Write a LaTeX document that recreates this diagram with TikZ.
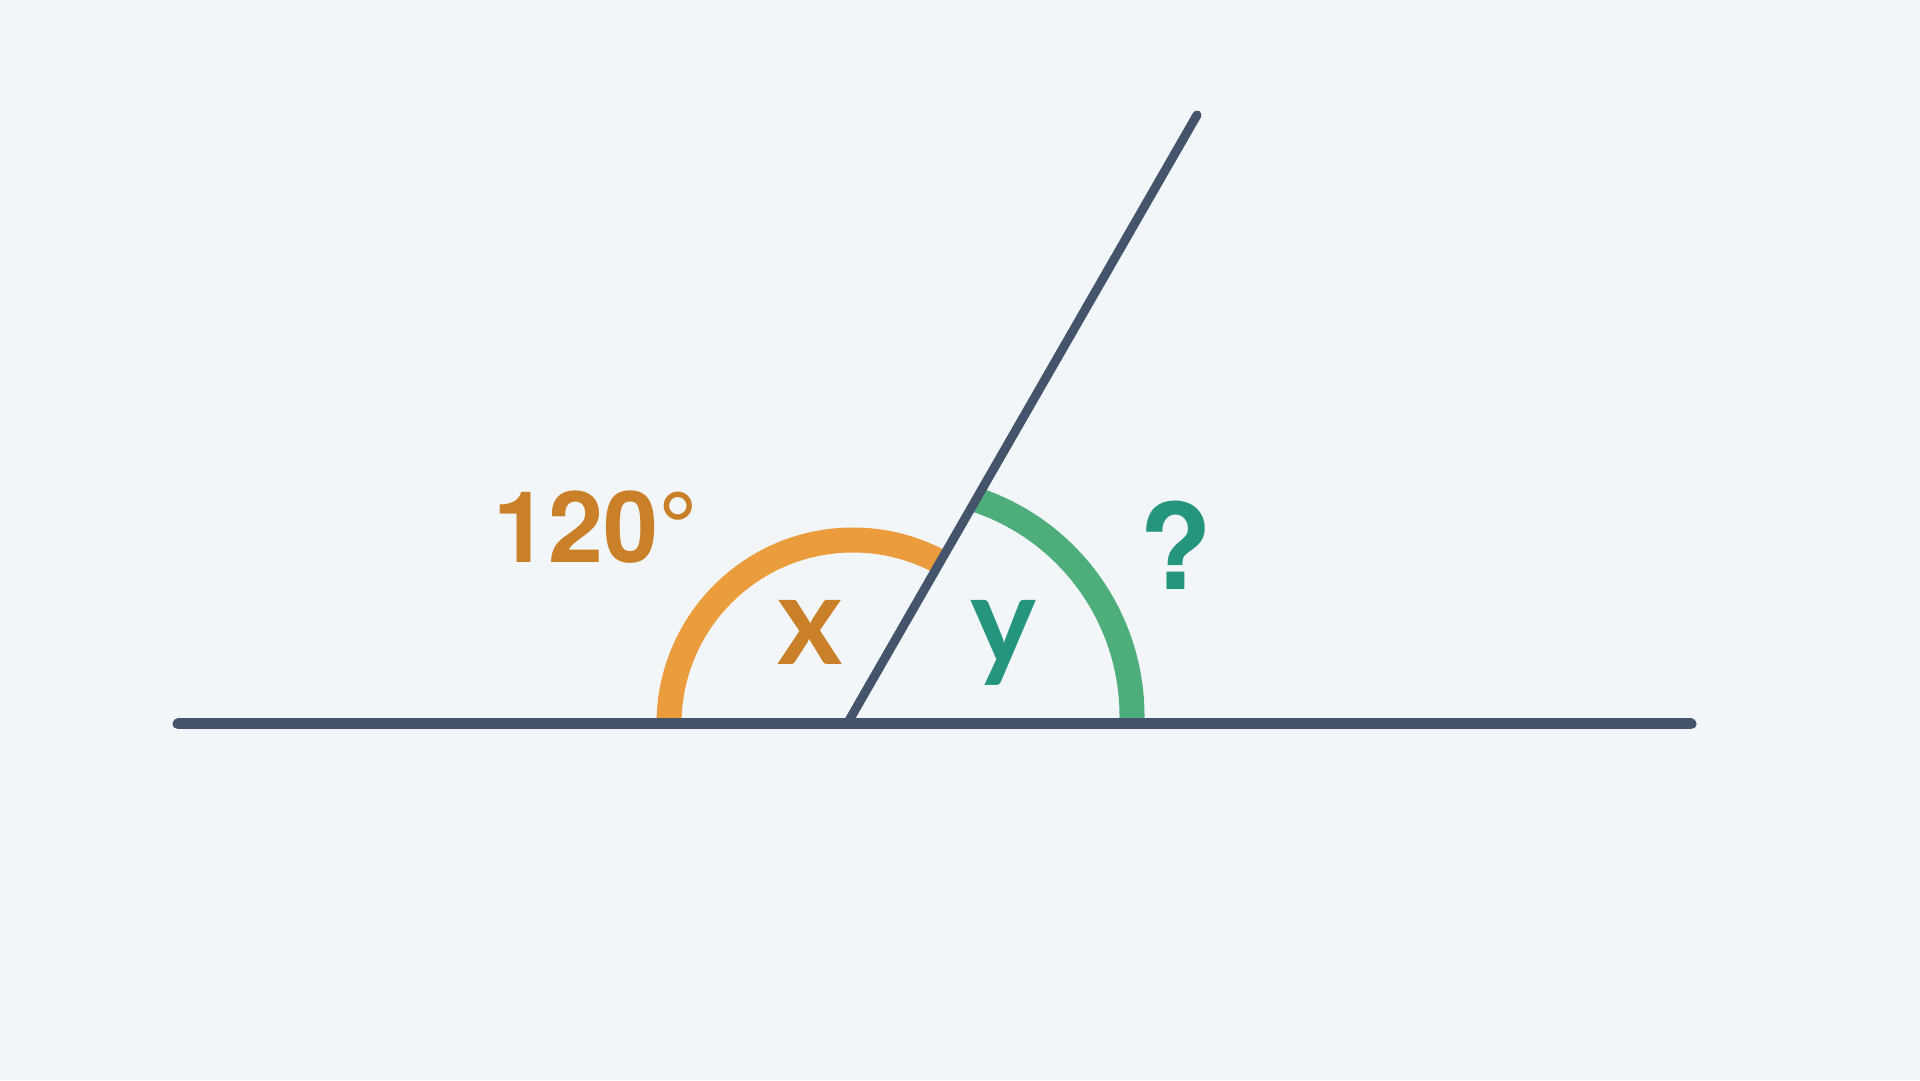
\documentclass[tikz,border=0pt]{standalone}
\usepackage{fontspec}
\setmainfont{TeX Gyre Heros}
\newfontfamily\letterfont{Lato}
\usetikzlibrary{calc}

\definecolor{bgcol}{HTML}{F3F6F8}
\definecolor{linecol}{HTML}{44546B}
\definecolor{xarc}{HTML}{EB9C3C}
\definecolor{xtext}{HTML}{C98028}
\definecolor{yarc}{HTML}{4DAD7B}
\definecolor{ytext}{HTML}{26957E}

\begin{document}
\begin{tikzpicture}[x=1pt,y=1pt,
  ray/.style={linecol,line cap=round},
  anglearc/.style={line width=25pt},
  label/.style={inner sep=0pt,anchor=base}]
  \fill[bgcol] (0,0) rectangle (1920,1080);

  \coordinate (O) at (847,356);
  \coordinate (L) at (178,356);
  \coordinate (R) at (1691,356);
  \coordinate (P) at (1197,965);

  % the two angles
  \draw[anglearc,xarc] (853,356) ++(180:184) arc (180:61.6:184);
  \draw[anglearc,yarc] (904,364) ++(-2:228) arc (-2:71.5:228);

  \draw[ray,line width=11pt] (L) -- (R);
  \draw[ray,line width=9pt] (O) -- (P);

  \node[label,xtext] (deg) at (596,517) {\fontsize{99}{99}\selectfont\bfseries 120°};
  \node[label,xtext] (x) at (810,415) {\letterfont\fontsize{125}{125}\selectfont\bfseries x};
  \node[label,ytext] (y) at (1003,415) {\letterfont\fontsize{125}{125}\selectfont\bfseries y};
  \node[label,ytext] (q) at (1176,490) {\fontsize{119}{119}\selectfont\bfseries ?};
\end{tikzpicture}
\end{document}
